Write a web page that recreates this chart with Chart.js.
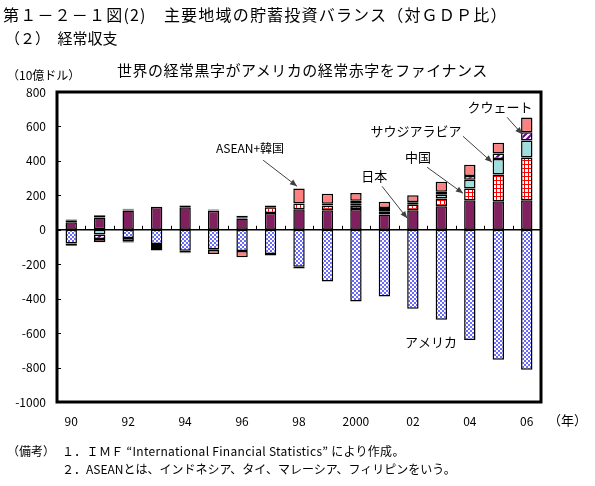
<!DOCTYPE html>
<html>
<head>
<meta charset="utf-8">
<script src="https://cdn.jsdelivr.net/npm/chart.js"></script>
<style>
  body { margin: 0; width: 595px; height: 486px; position: relative; background: #fff; overflow: hidden;
         font-family: "Noto Sans CJK JP", sans-serif; color: #000; }
  .t { position: absolute; white-space: nowrap; line-height: 1; }
  #wrap { position: absolute; left: 0; top: 0; width: 595px; height: 486px; }
</style>
</head>
<body>
<div id="wrap"><canvas id="chart" width="595" height="486"></canvas></div>
<div class="t" style="left:3px;top:6px;font-size:16px;letter-spacing:1.2px">第１－２－１図(2)　主要地域の貯蓄投資バランス（対ＧＤＰ比）</div>
<div class="t" style="left:5px;top:30px;font-size:15px">（２）　経常収支</div>
<div class="t" style="left:117px;top:62px;font-size:15px;letter-spacing:0.5px">世界の経常黒字がアメリカの経常赤字をファイナンス</div>
<div class="t" style="left:7px;top:69px;font-size:12px">（10億ドル）</div>
<div class="t" style="left:548px;top:413px;font-size:13px">（年）</div>
<div class="t" style="left:7px;top:445px;font-size:12px">（備考）</div>
<div class="t" style="left:62px;top:445px;font-size:12px;letter-spacing:0.3px">１．ＩＭＦ “International Financial Statistics” により作成。</div>
<div class="t" style="left:62px;top:463px;font-size:12px">２．ASEANとは、インドネシア、タイ、マレーシア、フィリピンをいう。</div>
<script>
// 年（カテゴリ）
const years = ['1990','1991','1992','1993','1994','1995','1996','1997','1998',
               '1999','2000','2001','2002','2003','2004','2005','2006'];
const tickLabels = ['90','','92','','94','','96','','98','','2000','','02','','04','','06'];

// 経常収支（10億ドル）
const usa    = [-79, 3, -48, -82, -122, -113, -123, -141, -214, -301, -417, -387, -459, -522, -640, -755, -813];
const japan  = [44, 68, 112, 132, 131, 111, 66, 97, 119, 114, 120, 88, 113, 136, 172, 166, 171];
const china  = [12, 13, 6, -12, 8, 2, 7, 34, 33, 25, 20, 17, 32, 45, 68, 155, 249];
const saudi  = [-4, -27, -18, -17, -10, -5, 1, 0, -11, 2, 14, 10, 12, 22, 50, 90, 99];
const kuwait = [4, -26, 4, 2, 3, 5, 7, 10, 2, 10, 14, 12, 4, 18, 22, 32, 48];
const asean  = [-10, -20, -8, -10, -5, -23, -36, -8, 85, 58, 45, 36, 39, 58, 66, 62, 85];

const yMin = -1000, yMax = 800, yStep = 200;

// 注記（カテゴリ位置, 値）
const notes = [
  { text: 'ASEAN+韓国', i: 6.28, v: 473, size: 12 },
  { text: '日本', i: 10.64, v: 311, size: 13 },
  { text: '中国', i: 12.18, v: 421, size: 13 },
  { text: 'サウジアラビア', i: 12.11, v: 572, size: 13 },
  { text: 'クウェート', i: 15.06, v: 711, size: 13 },
  { text: 'アメリカ', i: 12.64, v: -653, size: 13 }
];
const arrows = [
  [6.74, 404, 7.93, 253],
  [10.92, 252, 11.8, 67],
  [12.5, 363, 13.76, 212],
  [13.76, 543, 14.78, 392],
  [15.31, 653, 15.84, 555]
];

const ctx = document.getElementById('chart').getContext('2d');

function pattern(size, draw) {
    const c = document.createElement('canvas');
    c.width = c.height = size;
    const g = c.getContext('2d');
    g.fillStyle = '#fff';
    g.fillRect(0, 0, size, size);
    draw(g);
    return ctx.createPattern(c, 'repeat');
}

// 模様
const checkBlue = pattern(4, g => {
    g.fillStyle = '#6a6aff';
    g.fillRect(0, 0, 2, 2);
    g.fillRect(2, 2, 2, 2);
});
const gridRed = pattern(4, g => {
    g.fillStyle = '#ff0000';
    g.fillRect(0, 0, 4, 1);
    g.fillRect(0, 0, 1, 4);
});
const hatchPurple = pattern(6, g => {
    g.strokeStyle = '#660099';
    g.lineWidth = 2;
    g.beginPath();
    g.moveTo(0, 6); g.lineTo(6, 0);
    g.moveTo(-3, 3); g.lineTo(3, -3);
    g.moveTo(3, 9); g.lineTo(9, 3);
    g.stroke();
});

function ds(label, data, bg) {
    return {
        label: label, data: data, backgroundColor: bg,
        borderColor: '#000', borderWidth: 1.5, borderSkipped: false,
        stack: 's', barPercentage: 0.8, categoryPercentage: 0.5
    };
}

const decor = {
    id: 'decor',
    afterDatasetsDraw(chart) {
        const { ctx, chartArea: a, scales: { x, y } } = chart;
        ctx.save();
        ctx.strokeStyle = '#000';
        // ゼロ線
        const y0 = y.getPixelForValue(0);
        ctx.lineWidth = 1.5;
        ctx.beginPath();
        ctx.moveTo(a.left, y0); ctx.lineTo(a.right, y0);
        ctx.stroke();
        // 年の区切り目盛
        ctx.lineWidth = 1;
        ctx.beginPath();
        for (let i = 1; i < years.length; i++) {
            const bx = Math.round((x.getPixelForValue(i - 1) + x.getPixelForValue(i)) / 2) + 0.5;
            ctx.moveTo(bx, y0); ctx.lineTo(bx, y0 - 4);
        }
        // y目盛（内向き）
        y.ticks.forEach(t => {
            const py = Math.round(y.getPixelForValue(t.value)) + 0.5;
            ctx.moveTo(a.left, py); ctx.lineTo(a.left + 4, py);
        });
        ctx.stroke();
        // 枠
        ctx.lineWidth = 3;
        ctx.strokeRect(a.left, a.top, a.right - a.left, a.bottom - a.top);

        // 矢印
        ctx.strokeStyle = '#404040';
        ctx.fillStyle = '#404040';
        ctx.lineWidth = 1;
        arrows.forEach(r => {
            const x1 = x.getPixelForValue(r[0]), y1 = y.getPixelForValue(r[1]);
            const x2 = x.getPixelForValue(r[2]), y2 = y.getPixelForValue(r[3]);
            const ang = Math.atan2(y2 - y1, x2 - x1);
            ctx.beginPath();
            ctx.moveTo(x1, y1); ctx.lineTo(x2, y2);
            ctx.stroke();
            ctx.beginPath();
            ctx.moveTo(x2, y2);
            ctx.lineTo(x2 - 7 * Math.cos(ang) + 3 * Math.sin(ang), y2 - 7 * Math.sin(ang) - 3 * Math.cos(ang));
            ctx.lineTo(x2 - 7 * Math.cos(ang) - 3 * Math.sin(ang), y2 - 7 * Math.sin(ang) + 3 * Math.cos(ang));
            ctx.closePath();
            ctx.fill();
        });
        // 注記
        ctx.fillStyle = '#000';
        ctx.textAlign = 'center';
        ctx.textBaseline = 'middle';
        notes.forEach(n => {
            ctx.font = n.size + 'px "Noto Sans CJK JP"';
            ctx.fillText(n.text, x.getPixelForValue(n.i), y.getPixelForValue(n.v));
        });
        ctx.restore();
    }
};

new Chart(ctx, {
    type: 'bar',
    data: {
        labels: years,
        datasets: [
            ds('アメリカ', usa, checkBlue),
            ds('日本', japan, '#80205f'),
            ds('中国', china, gridRed),
            ds('サウジアラビア', saudi, '#a0dede'),
            ds('クウェート', kuwait, hatchPurple),
            ds('ASEAN+韓国', asean, '#ff8080')
        ]
    },
    options: {
        responsive: false,
        animation: false,
        layout: { padding: { left: 0, top: 92, right: 54, bottom: 54 } },
        plugins: {
            legend: { display: false },
            tooltip: { enabled: false }
        },
        scales: {
            x: {
                stacked: true,
                grid: { display: false, drawTicks: false },
                border: { display: false },
                afterFit: s => { s.height = 30; },
                ticks: {
                    autoSkip: false, maxRotation: 0, padding: 12, color: '#000',
                    font: { family: 'Noto Sans CJK JP', size: 12 },
                    callback: (v, i) => tickLabels[i]
                }
            },
            y: {
                stacked: true,
                min: yMin, max: yMax,
                grid: { display: false, drawTicks: false },
                border: { display: false },
                afterFit: s => { s.width = 57; },
                ticks: {
                    stepSize: yStep, padding: 11, color: '#000',
                    font: { family: 'Noto Sans CJK JP', size: 12 },
                    callback: v => String(v)
                }
            }
        }
    },
    plugins: [decor]
});
</script>
</body>
</html>
